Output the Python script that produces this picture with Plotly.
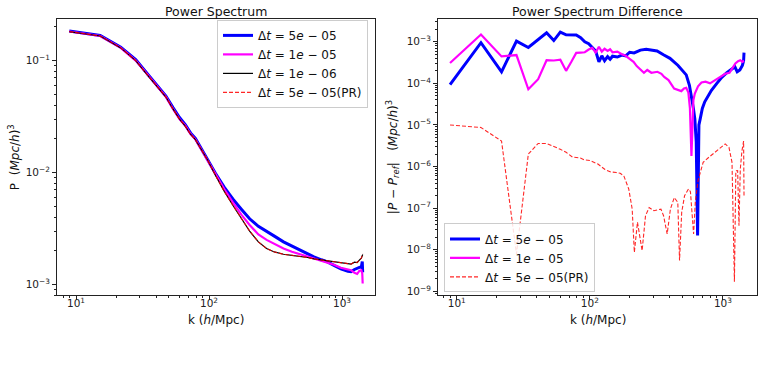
import plotly.graph_objects as go
import math

# ---------------- data: left panel (power spectrum) ----------------
k_left = [8.9, 15.2, 21.7, 28.1, 34.5, 40.9, 47.3, 53.6, 60, 66.3, 72.6, 79, 85.3, 91.6, 98,
          112, 130, 151, 175, 202, 235, 271, 310, 363, 420, 486, 550, 615, 700, 777, 870,
          980, 1107, 1170, 1240, 1300, 1350, 1397, 1420, 1430]
P_dt5e5 = [0.184, 0.168, 0.132, 0.102, 0.076, 0.060, 0.0485, 0.038, 0.031, 0.0268, 0.0226, 0.0202,
           0.0172, 0.0149, 0.0131, 0.0098, 0.0074, 0.0058, 0.0047, 0.00386, 0.0033, 0.00295, 0.0027,
           0.0024, 0.0022, 0.00202, 0.00188, 0.00176, 0.00166, 0.00159, 0.00148, 0.00138, 0.00131,
           0.00130, 0.00136, 0.00140, 0.00142, 0.00143, 0.00160, 0.00128]
P_dt1e5 = [0.182, 0.166, 0.130, 0.100, 0.075, 0.059, 0.0476, 0.037, 0.030, 0.0262, 0.0221, 0.0198,
           0.0169, 0.0146, 0.0129, 0.0096, 0.0071, 0.0054, 0.0042, 0.0034, 0.0028, 0.0025, 0.0023,
           0.00209, 0.00196, 0.00186, 0.00178, 0.0017, 0.00163, 0.00158, 0.0015, 0.00141, 0.00136,
           0.00134, 0.00127, 0.00124, 0.00132, 0.00134, 0.00125, 0.00102]
P_dt1e6 = [0.182, 0.166, 0.130, 0.100, 0.0743, 0.059, 0.0475, 0.037, 0.030, 0.026, 0.022, 0.0197,
           0.0168, 0.0145, 0.0128, 0.0094, 0.0068, 0.0051, 0.0039, 0.0030, 0.0024, 0.00209, 0.00195,
           0.00186, 0.00182, 0.00179, 0.00174, 0.00169, 0.00165, 0.00162, 0.00159, 0.00156, 0.00153,
           0.00152, 0.00158, 0.00157, 0.00165, 0.00172, 0.00180, 0.00185]
P_dt5e5_PR = [0.182, 0.166, 0.130, 0.100, 0.0743, 0.059, 0.0475, 0.037, 0.030, 0.026, 0.022, 0.0197,
              0.0168, 0.0145, 0.0128, 0.0094, 0.0068, 0.0051, 0.0039, 0.0030, 0.0024, 0.00209, 0.00195,
              0.00186, 0.00182, 0.00179, 0.00174, 0.00169, 0.00165, 0.00162, 0.00159, 0.00156, 0.00153,
              0.00152, 0.00158, 0.00157, 0.00165, 0.00172, 0.00180, 0.00188]

# ---------------- data: right panel (difference) ----------------
k_diff_dt5e5 = [8.9, 15.2, 21.7, 28.1, 34.5, 40.9, 47.3, 53.6, 60, 66.3, 72.6, 79, 85.3, 91.6, 98,
                104.3, 110.6, 117, 123, 129, 136, 142, 148, 161, 174, 186, 199, 215, 240, 265, 290,
                320, 360, 400, 460, 500, 530, 560, 580, 600, 615, 630, 645, 660, 675, 700, 730, 770,
                820, 900, 980, 1070, 1170, 1230, 1280, 1340, 1400, 1430, 1440]
D_dt5e5 = [9.3e-5, 9.5e-4, 1.9e-4, 1.04e-3, 7.3e-4, 1.1e-3, 1.64e-3, 1.07e-3, 1.7e-3, 1.47e-3, 1.45e-3,
           1.45e-3, 1.25e-3, 1.0e-3, 9.0e-4, 7.5e-4, 6.0e-4, 3.3e-4, 4.6e-4, 3.5e-4, 4.4e-4, 3.8e-4,
           4.5e-4, 4.3e-4, 4.8e-4, 4.6e-4, 5.6e-4, 5.4e-4, 6.3e-4, 6.6e-4, 6.4e-4, 6.0e-4, 4.8e-4,
           4.0e-4, 2.7e-4, 2.0e-4, 1.6e-4, 9.0e-5, 5.2e-5, 2.5e-5, 1.4e-5, 4e-6, 2.2e-8, 1.0e-5,
           1.4e-5, 2.5e-5, 3.6e-5, 5.0e-5, 6.8e-5, 1.0e-4, 1.4e-4, 1.8e-4, 2.3e-4, 2.5e-4, 1.9e-4,
           2.1e-4, 2.7e-4, 3.5e-4, 5.5e-4]

k_diff_dt1e5 = [8.9, 15.2, 21.7, 28.1, 34.5, 40.9, 47.3, 53.6, 60, 66.3, 72.6, 79, 85.3, 91.6, 98,
                104.3, 110.6, 117, 123, 129, 136, 142, 148, 161, 174, 186, 199, 213, 225, 240, 255,
                270, 290, 322, 345, 362, 390, 430, 460, 487, 510, 530, 550, 565, 580, 600, 615, 650,
                690, 740, 800, 870, 950, 1040, 1120, 1180, 1240, 1300, 1350, 1400, 1440]
D_dt1e5 = [3.1e-4, 1.5e-3, 4.45e-4, 4.8e-4, 7.2e-5, 1.26e-4, 3.6e-4, 3.55e-4, 3.7e-4, 2.0e-4, 3.3e-4,
           5.4e-4, 5.5e-4, 5.6e-4, 6.5e-4, 7.1e-4, 5.5e-4, 7.6e-4, 5.8e-4, 6.8e-4, 6.0e-4, 6.6e-4,
           5.6e-4, 5.8e-4, 5.0e-4, 4.6e-4, 3.9e-4, 3.3e-4, 2.6e-4, 2.2e-4, 1.8e-4, 2.1e-4, 1.8e-4,
           1.9e-4, 1.7e-4, 1.43e-4, 1.2e-4, 7.5e-5, 7.0e-5, 6.5e-5, 7.5e-5, 7.8e-5, 6.0e-5, 2.5e-5,
           1.8e-6, 4.0e-5, 5.7e-5, 8.5e-5, 1.05e-4, 1.1e-4, 1.0e-4, 1.2e-4, 1.4e-4, 1.7e-4, 1.8e-4,
           2.4e-4, 3.0e-4, 3.4e-4, 3.6e-4, 3.3e-4, 3.5e-4]

k_diff_PR = [8.9, 15.2, 21.7, 28.1, 34.5, 40.9, 47.3, 53.6, 60, 66.3, 74, 85, 91, 100, 115, 130, 142,
             158, 169, 180, 196, 208, 216, 228, 236, 247, 262, 279, 303, 342, 358, 381, 403, 431, 458,
             472, 490, 515, 551, 570, 602, 620, 650, 710, 780, 870, 980, 1040, 1110, 1170, 1220, 1250,
             1290, 1320, 1350, 1390, 1430, 1440]
D_PR = [1.0e-5, 8.7e-6, 4.1e-6, 8e-9, 2.0e-6, 3.6e-6, 3.6e-6, 3.1e-6, 2.6e-6, 2.2e-6, 1.7e-6, 1.6e-6,
        1.45e-6, 1.4e-6, 1.15e-6, 8.5e-7, 7.5e-7, 7.2e-7, 6.9e-7, 6.0e-7, 2.9e-7, 9.6e-8, 8.7e-9,
        4.6e-8, 2.5e-8, 9.5e-9, 6.6e-8, 1.04e-7, 8.7e-8, 9.5e-8, 6.6e-8, 2.4e-8, 9.5e-8, 1.8e-7,
        1.38e-7, 5.5e-9, 8e-8, 2.0e-7, 2.9e-7, 2.5e-7, 2.4e-8, 1.4e-7, 4.6e-7, 1.26e-6, 1.65e-6,
        2.2e-6, 2.9e-6, 3.5e-6, 2.9e-6, 1.26e-6, 1.7e-9, 7.9e-7, 8e-7, 3.8e-8, 8.6e-7, 2.4e-6,
        4.1e-6, 2e-7]

# ---------------- labels ----------------
lbl_5e5 = "Δ<i>t</i> = 5<i>e</i> − 05"
lbl_1e5 = "Δ<i>t</i> = 1<i>e</i> − 05"
lbl_1e6 = "Δ<i>t</i> = 1<i>e</i> − 06"
lbl_PR = "Δ<i>t</i> = 5<i>e</i> − 05(PR)"

FONT = "DejaVu Sans"
W, H = 764, 366

fig = go.Figure()

# left panel
fig.add_trace(go.Scatter(x=k_left, y=P_dt5e5, mode="lines", name=lbl_5e5,
                         line=dict(color="#0000ff", width=3), xaxis="x", yaxis="y", legend="legend"))
fig.add_trace(go.Scatter(x=k_left, y=P_dt1e5, mode="lines", name=lbl_1e5,
                         line=dict(color="#ff00ff", width=2.2), xaxis="x", yaxis="y", legend="legend"))
fig.add_trace(go.Scatter(x=k_left, y=P_dt1e6, mode="lines", name=lbl_1e6,
                         line=dict(color="#000000", width=1.2), xaxis="x", yaxis="y", legend="legend"))
fig.add_trace(go.Scatter(x=k_left, y=P_dt5e5_PR, mode="lines", name=lbl_PR,
                         line=dict(color="rgba(255,0,0,0.85)", width=1.1, dash="4px,2px"),
                         xaxis="x", yaxis="y", legend="legend"))

# right panel
fig.add_trace(go.Scatter(x=k_diff_dt5e5, y=D_dt5e5, mode="lines", name=lbl_5e5,
                         line=dict(color="#0000ff", width=3), xaxis="x2", yaxis="y2", legend="legend2"))
fig.add_trace(go.Scatter(x=k_diff_dt1e5, y=D_dt1e5, mode="lines", name=lbl_1e5,
                         line=dict(color="#ff00ff", width=2.2), xaxis="x2", yaxis="y2", legend="legend2"))
fig.add_trace(go.Scatter(x=k_diff_PR, y=D_PR, mode="lines", name=lbl_PR,
                         line=dict(color="rgba(255,0,0,0.85)", width=1.1, dash="4px,2px"),
                         xaxis="x2", yaxis="y2", legend="legend2"))

def sup(e):
    return "10<sup>" + (("−" + str(-e)) if e < 0 else str(e)) + "</sup>"

def minors(lo, hi):
    return [m * 10 ** d for d in range(lo, hi) for m in range(2, 10)]

ax_common = dict(type="log", showgrid=False, zeroline=False, showline=True, mirror=True,
                 linecolor="#222222", linewidth=1, ticks="outside", ticklen=4, tickwidth=1,
                 tickcolor="#222222", tickfont=dict(family=FONT, size=10.5, color="#222222"))

# plot area pixels
L1, R1 = 57, 375
L2, R2 = 438, 757
T, B = 19, 297
ydom = [(H - B) / H, (H - T) / H]

fig.update_layout(
    width=W, height=H, margin=dict(l=0, r=0, t=0, b=0),
    paper_bgcolor="white", plot_bgcolor="white",
    font=dict(family=FONT, color="#222222"),
    xaxis=dict(ax_common, domain=[L1 / W, R1 / W], anchor="y",
               range=[0.857, 3.248], ticklabelstandoff=-6,
               tickmode="array", tickvals=[10, 100, 1000], ticktext=[sup(1), sup(2), sup(3)],
               minor=dict(ticks="outside", ticklen=2, tickcolor="#222222", tickvals=minors(0, 4))),
    yaxis=dict(ax_common, domain=ydom, anchor="x",
               range=[-3.098, -0.627],
               tickmode="array", tickvals=[1e-3, 1e-2, 1e-1], ticktext=[sup(-3), sup(-2), sup(-1)],
               minor=dict(ticks="outside", ticklen=2, tickcolor="#222222", tickvals=minors(-4, 0))),
    xaxis2=dict(ax_common, domain=[L2 / W, R2 / W], anchor="y2",
                range=[0.859, 3.256], ticklabelstandoff=-6,
                tickmode="array", tickvals=[10, 100, 1000], ticktext=[sup(1), sup(2), sup(3)],
                minor=dict(ticks="outside", ticklen=2, tickcolor="#222222", tickvals=minors(0, 4))),
    yaxis2=dict(ax_common, domain=ydom, anchor="x2",
                range=[-9.096, -2.45],
                tickmode="array", tickvals=[10.0 ** e for e in range(-9, -2)],
                ticktext=[sup(e) for e in range(-9, -2)],
                minor=dict(ticks="outside", ticklen=2, tickcolor="#222222", tickvals=minors(-10, -2))),
    legend=dict(x=368 / W, xanchor="right", y=(H - 20) / H, yanchor="top",
                bgcolor="rgba(255,255,255,0.85)", bordercolor="#cccccc", borderwidth=1,
                font=dict(family=FONT, size=12, color="#111111"), itemwidth=30,
                tracegroupgap=0),
    legend2=dict(x=444 / W, xanchor="left", y=(H - 294) / H, yanchor="bottom",
                 bgcolor="rgba(255,255,255,0.85)", bordercolor="#cccccc", borderwidth=1,
                 font=dict(family=FONT, size=12, color="#111111"), itemwidth=30,
                 tracegroupgap=0),
    showlegend=True,
)

ann = []
def add_text(text, xpx, ypx, size, angle=0):
    ann.append(dict(text=text, x=xpx / W, y=(H - ypx) / H, xref="paper", yref="paper",
                    showarrow=False, textangle=angle, xanchor="center", yanchor="middle",
                    font=dict(family=FONT, size=size, color="#111111")))

add_text("Power Spectrum", (L1 + R1) / 2, 11.5, 12.5)
add_text("Power Spectrum Difference", (L2 + R2) / 2, 11.5, 12.5)
add_text("k (<i>h</i>/Mpc)", (L1 + R1) / 2, 322, 12)
add_text("k (<i>h</i>/Mpc)", (L2 + R2) / 2, 322, 12)
add_text("P  (<i>Mpc</i>/<i>h</i>)<sup>3</sup>", 14, (T + B) / 2, 12, -90)
add_text("|<i>P</i> − <i>P<sub>ref</sub></i>|   (<i>Mpc</i>/<i>h</i>)<sup>3</sup>", 393, (T + B) / 2, 12, -90)
fig.update_layout(annotations=ann)

fig.write_html("out.html")
